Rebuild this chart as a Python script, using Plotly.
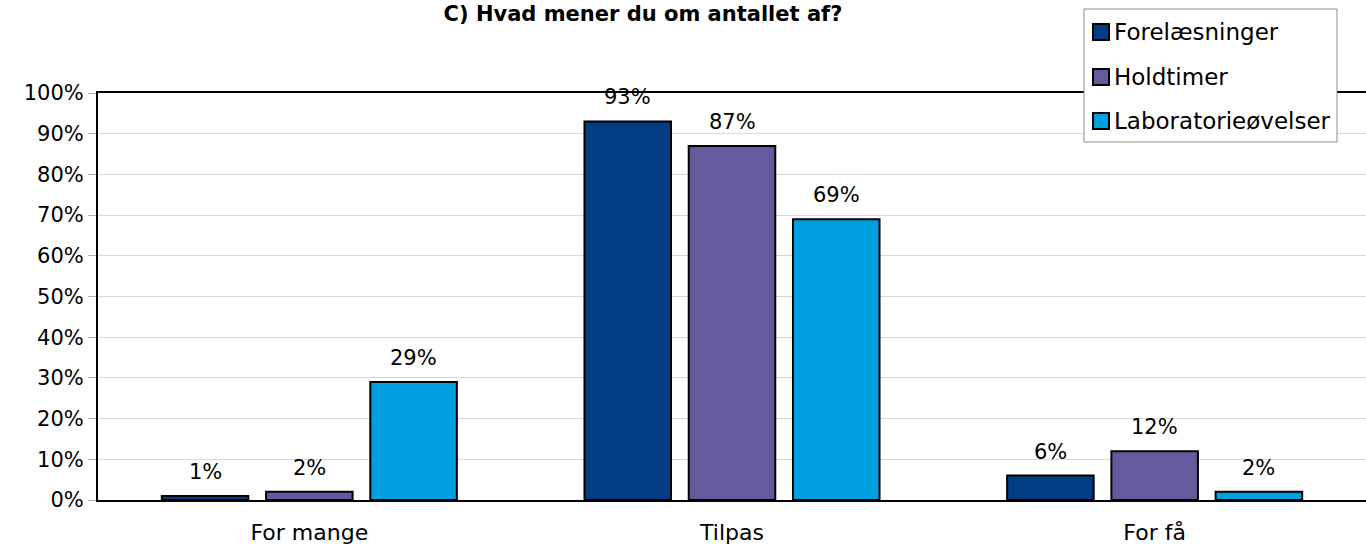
import plotly.graph_objects as go

categories = ["For mange", "Tilpas", "For få"]
series_names = ["Forelæsninger", "Holdtimer", "Laboratorieøvelser"]
forelaesninger = [1, 93, 6]
holdtimer = [2, 87, 12]
laboratorie = [29, 69, 2]
series_values = [forelaesninger, holdtimer, laboratorie]
colors = ["#023C82", "#665A9E", "#009FDF"]
tick_vals = [0, 10, 20, 30, 40, 50, 60, 70, 80, 90, 100]
tick_text = [f"{v}%" for v in tick_vals]

FONT = "DejaVu Sans, sans-serif"
W, H = 1366, 544
ML, MR, MT, MB = 98, 0, 93, 44
PW = W - ML - MR
PH = H - MT - MB
BARGAP = 0.26
GROUPGAP = 0.17


def px2x(px):
    return (px - ML) / PW


def px2y(py):
    return (H - MB - py) / PH


fig = go.Figure()
slot_px = PW / len(categories) * (1 - BARGAP) / len(series_names)
annotations = []
for i, (name, vals, col) in enumerate(zip(series_names, series_values, colors)):
    fig.add_trace(go.Bar(
        x=categories, y=vals, name=name,
        marker=dict(color=col, line=dict(color="#000000", width=2)),
        showlegend=False, hoverinfo="skip",
    ))
    offset = (i - (len(series_names) - 1) / 2) * slot_px
    for c, v in zip(categories, vals):
        annotations.append(dict(
            x=c, y=v, xref="x", yref="y", text=f"{v}%", showarrow=False,
            xanchor="center", yanchor="bottom", xshift=offset, yshift=10,
            font=dict(size=21, family=FONT, color="#000000"),
        ))

# manual legend
shapes = [dict(type="rect", xref="paper", yref="paper",
               x0=px2x(1084), x1=px2x(1337), y0=px2y(142), y1=px2y(9),
               line=dict(color="#8c8c8c", width=1), fillcolor="white", layer="above")]
row_centers = [32, 77, 121]
for name, col, cy in zip(series_names, colors, row_centers):
    shapes.append(dict(type="rect", xref="paper", yref="paper",
                       x0=px2x(1093), x1=px2x(1109), y0=px2y(cy + 8), y1=px2y(cy - 8),
                       line=dict(color="#000000", width=2), fillcolor=col, layer="above"))
    annotations.append(dict(x=px2x(1112), y=px2y(cy), xref="paper", yref="paper",
                            text=name, showarrow=False, xanchor="left", yanchor="middle",
                            font=dict(size=23, family=FONT, color="#000000")))

fig.update_layout(
    width=W, height=H,
    margin=dict(l=ML, r=MR, t=MT, b=MB, autoexpand=False),
    paper_bgcolor="white", plot_bgcolor="white",
    barmode="group", bargap=BARGAP, bargroupgap=GROUPGAP,
    font=dict(family=FONT, size=21, color="#000000"),
    title=dict(text="<b>C) Hvad mener du om antallet af?</b>", x=643 / W, xanchor="center",
               y=1 - 14 / H, yanchor="middle", xref="container", yref="container",
               font=dict(size=21, family=FONT, color="#000000")),
    showlegend=False,
    shapes=shapes,
    annotations=annotations,
)
fig.update_xaxes(showline=True, linecolor="#000000", linewidth=2, mirror=True,
                 ticks="", tickfont=dict(size=22), showgrid=False,
                 automargin=False, ticklabelstandoff=12)
fig.update_yaxes(range=[0, 100], tickvals=tick_vals, ticktext=tick_text,
                 showline=True, linecolor="#000000", linewidth=2,
                 ticks="outside", ticklen=8, tickcolor="#b0b0b0",
                 showgrid=True, gridcolor="#d9d9d9", gridwidth=1,
                 tickfont=dict(size=21), zeroline=False, automargin=False)

fig.write_html("out.html", config={"displayModeBar": False},
               post_script="document.body.style.margin='0';document.body.style.overflow='hidden';")
